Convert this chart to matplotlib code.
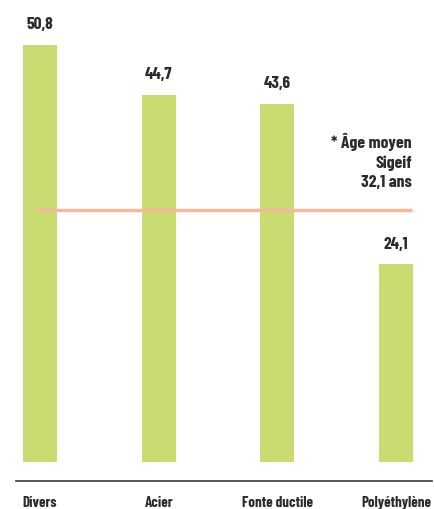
import matplotlib.pyplot as plt

categories = ['Divers', 'Acier', 'Fonte ductile', 'Polyéthylène']
ages = [50.8, 44.7, 43.6, 24.1]
labels = ['50,8', '44,7', '43,6', '24,1']
avg_line = 30.7  # position of the orange line as drawn
avg_text = '* Âge moyen\nSigeif\n32,1 ans'

font = ['Barlow Condensed', 'DejaVu Sans']
txt_color = '#2b2b2b'

fig = plt.figure(figsize=(4.34, 5.09), dpi=100)
ax = fig.add_axes([0, 0, 1, 1])
ax.set_xlim(-0.337, 3.32)
ax.set_ylim(-5.72, 56.27)
ax.axis('off')

x = range(len(categories))
ax.bar(x, ages, width=0.287, color='#c8dc72', zorder=2)

for xi, v, lab in zip(x, ages, labels):
    ax.text(xi, v + 2.45, lab, ha='center', va='center', fontsize=12.5,
            fontweight=700, color=txt_color, family=font)
    ax.text(xi, -4.95, categories[xi], ha='center', va='center', fontsize=10.8,
            fontweight=700, color=txt_color, family=font)

# baseline
ax.axhline(-2.31, xmin=0.037, xmax=0.995, color='#3a3a3a', lw=1.2)

# average line
ax.hlines(avg_line, -0.042, 3.135, color='#f7b79a', lw=2.5, zorder=3)
ax.text(3.135, 36.6, avg_text, ha='right', va='center', fontsize=12.8,
        fontweight=700, color=txt_color, family=font, linespacing=1.35)

fig.savefig('out.png', dpi=100)
